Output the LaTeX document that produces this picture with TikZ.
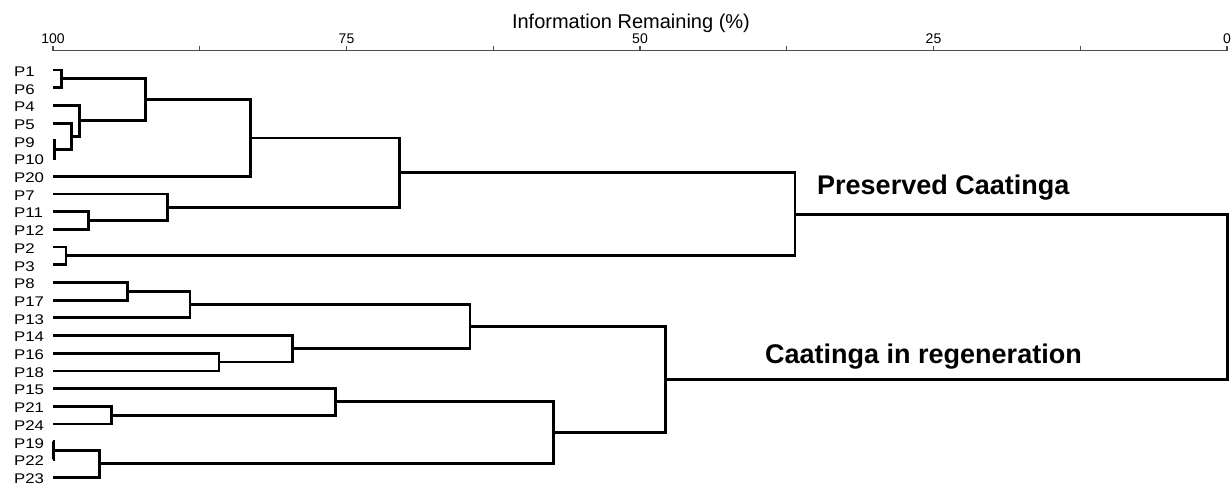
\documentclass[tikz,border=0pt]{standalone}
\usepackage{fontspec}
\setmainfont{Liberation Sans}
\newfontfamily\sitefont[FakeStretch=1.2]{Liberation Sans}
\usetikzlibrary{calc}

\begin{document}
\begin{tikzpicture}[x=1pt,y=-1pt]
    \tikzset{leaf/.style={anchor=west,inner sep=0pt,font=\sitefont\fontsize{14}{14}\selectfont},
      branch/.style={line width=2.8pt,black},
      axisline/.style={line width=1.4pt,black!70},
      ticklab/.style={anchor=base,inner sep=0pt,font=\fontsize{14}{14}\selectfont},
      group/.style={anchor=base west,inner sep=0pt,font=\fontsize{27}{27}\selectfont\bfseries}}
    \useasboundingbox (0,0) rectangle (1232,485);
    % axis
    \draw[axisline] (53,50.5) coordinate (a100) -- (1227,50.5) coordinate (a0);
    \foreach \k in {0,...,8}
      \draw[axisline] ({53+146.75*\k},50.5) -- ++(0,-5);
    \foreach \v [count=\k from 0] in {100,75,50,25,0}
      \node[ticklab] (t\v) at ({53+293.5*\k},43.5) {\v};
    \node[anchor=base,inner sep=0pt,font=\fontsize{20}{20}\selectfont] (title) at (631,28.3) {Information Remaining (\%)};
    % sites
    \foreach \site [count=\i from 0] in {P1,P6,P4,P5,P9,P10,P20,P7,P11,P12,P2,P3,P8,P17,P13,P14,P16,P18,P15,P21,P24,P19,P22,P23}
    {
      \node[leaf] (\site) at (14,{71.5+17.7*\i}) {\site};
      \coordinate (\site-tip) at (53,{70+17.7*\i});
    }
    % clusters: name/level/upper/lower
    \foreach \nm/\xx/\up/\lo in {m16/61.7/P1-tip/P6-tip, m910/54.3/P9-tip/P10-tip,
        m5/71.7/P5-tip/m910, m4/79.3/P4-tip/m5, mA/145.7/m16/m4, mB/250.7/mA/P20-tip,
        m1112/88.3/P11-tip/P12-tip, m7/167.3/P7-tip/m1112, mC/399.3/mB/m7,
        m23/66/P2-tip/P3-tip, mPres/795/mC/m23,
        m817/127.3/P8-tip/P17-tip, m13/190/m817/P13-tip, m1618/219/P16-tip/P18-tip,
        m14/292.3/P14-tip/m1618, mD/470/m13/m14,
        m2124/111.7/P21-tip/P24-tip, m15/335.7/P15-tip/m2124,
        m1922/53.8/P19-tip/P22-tip, m1923/99.3/m1922/P23-tip, mE/553.3/m15/m1923,
        mRegen/665.7/mD/mE, root/1227.3/mPres/mRegen}
    {
      \path let \p1=($(\up)!0.5!(\lo)$) in coordinate (\nm) at (\xx,\y1);
      \draw[branch] (\up) -| (\nm) |- (\lo);
    }
    \node[group] (pres) at (817,194) {Preserved Caatinga};
    \node[group] (regen) at (765,363) {Caatinga in regeneration};
\end{tikzpicture}
\end{document}
